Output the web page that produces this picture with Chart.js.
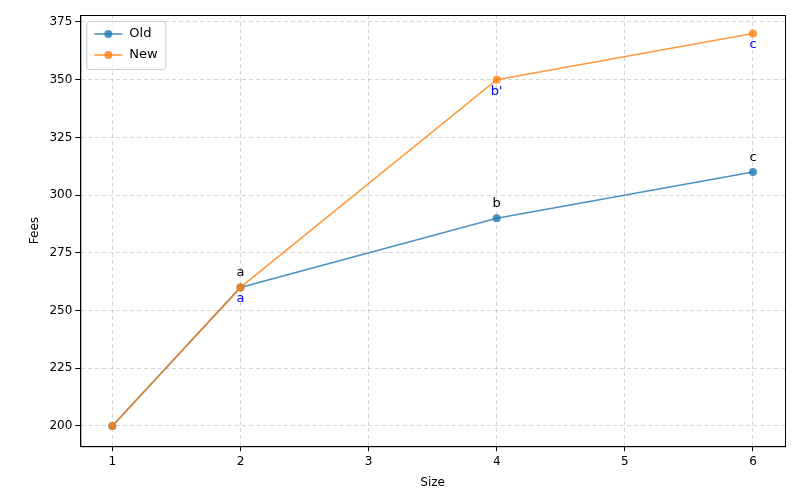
<!DOCTYPE html>
<html>
<head>
<meta charset="utf-8">
<script src="https://cdn.jsdelivr.net/npm/chart.js@4"></script>
<style>
  html, body { margin: 0; padding: 0; background: #fff; }
  #wrap { width: 800px; height: 500px; }
</style>
</head>
<body>
<div id="wrap"><canvas id="chart"></canvas></div>
<script>
// --- Data ---
const sizes = [1, 2, 4, 6];
const oldFees = [200, 260, 290, 310];
const newFees = [200, 260, 350, 370];
const oldLabels = ['', 'a', 'b', 'c'];
const newLabels = ['', 'a', "b'", 'c'];
const xTicks = [1, 2, 3, 4, 5, 6];
const yTicks = [200, 225, 250, 275, 300, 325, 350, 375];

const toPoints = (ys) => sizes.map((x, i) => ({ x: x, y: ys[i] }));
const OLD_COLOR = 'rgba(31,119,180,0.8)';
const NEW_COLOR = 'rgba(255,127,14,0.8)';

// draws the small letters next to the points
const pointLabels = {
    id: 'pointLabels',
    afterDatasetsDraw(chart) {
        const ctx = chart.ctx;
        ctx.save();
        ctx.font = '13px "DejaVu Sans"';
        ctx.textAlign = 'center';
        chart.getDatasetMeta(0).data.forEach((pt, i) => {
            ctx.fillStyle = '#000';
            ctx.textBaseline = 'bottom';
            ctx.fillText(oldLabels[i], pt.x, pt.y - 8);
        });
        chart.getDatasetMeta(1).data.forEach((pt, i) => {
            ctx.fillStyle = '#0000ff';
            ctx.textBaseline = 'top';
            ctx.fillText(newLabels[i], pt.x, pt.y + 5);
        });
        ctx.restore();
    }
};

// frame + matplotlib-style legend box in the top-left corner
const frameLegend = {
    id: 'frameLegend',
    afterDraw(chart) {
        const a = chart.chartArea, ctx = chart.ctx;
        ctx.save();
        ctx.strokeStyle = '#000';
        ctx.lineWidth = 1;
        ctx.strokeRect(a.left + 0.5, a.top + 0.5, a.right - a.left, a.bottom - a.top);

        const bx = a.left + 6, by = a.top + 6, bw = 79, bh = 48;
        ctx.fillStyle = 'rgba(255,255,255,0.8)';
        ctx.strokeStyle = '#ccc';
        ctx.beginPath();
        ctx.roundRect(bx + 0.5, by + 0.5, bw, bh, 3);
        ctx.fill();
        ctx.stroke();
        const items = [['Old', OLD_COLOR], ['New', NEW_COLOR]];
        ctx.font = '13px "DejaVu Sans"';
        ctx.textBaseline = 'middle';
        items.forEach(([name, color], i) => {
            const y = by + 13 + i * 21;
            ctx.strokeStyle = color;
            ctx.lineWidth = 1.6;
            ctx.beginPath();
            ctx.moveTo(bx + 8, y);
            ctx.lineTo(bx + 36, y);
            ctx.stroke();
            ctx.fillStyle = color;
            ctx.beginPath();
            ctx.arc(bx + 22, y, 4, 0, Math.PI * 2);
            ctx.fill();
            ctx.fillStyle = '#000';
            ctx.fillText(name, bx + 43, y);
        });
        ctx.restore();
    }
};

const tickFont = { family: 'DejaVu Sans', size: 12 };
const gridStyle = { color: 'rgba(0,0,0,0.16)', tickColor: '#000', tickLength: 5 };

new Chart(document.getElementById('chart'), {
    type: 'line',
    data: {
        datasets: [
            {
                label: 'Old',
                data: toPoints(oldFees),
                borderColor: OLD_COLOR,
                backgroundColor: OLD_COLOR,
                borderWidth: 1.6,
                pointRadius: 4,
                pointBorderWidth: 0,
                order: 1
            },
            {
                label: 'New',
                data: toPoints(newFees),
                borderColor: NEW_COLOR,
                backgroundColor: NEW_COLOR,
                borderWidth: 1.6,
                pointRadius: 4,
                pointBorderWidth: 0,
                order: 0
            }
        ]
    },
    options: {
        responsive: true,
        maintainAspectRatio: false,
        animation: false,
        layout: { padding: { left: 24, right: 15, top: 15, bottom: 6 } },
        plugins: {
            legend: { display: false },
            tooltip: { enabled: false }
        },
        scales: {
            x: {
                type: 'linear',
                min: 0.75,
                max: 6.25,
                grid: { ...gridStyle },
                border: { color: '#000', dash: [4, 3] },
                ticks: { color: '#000', font: tickFont },
                afterBuildTicks: (axis) => {
                    axis.ticks = xTicks.map(v => ({ value: v }));
                },
                title: { display: true, text: 'Size', color: '#000', font: tickFont }
            },
            y: {
                min: 191.25,
                max: 378,
                grid: { ...gridStyle },
                border: { color: '#000', dash: [4, 3] },
                ticks: { color: '#000', font: tickFont },
                afterBuildTicks: (axis) => {
                    axis.ticks = yTicks.map(v => ({ value: v }));
                },
                title: { display: true, text: 'Fees', color: '#000', font: tickFont }
            }
        }
    },
    plugins: [pointLabels, frameLegend]
});
</script>
</body>
</html>
